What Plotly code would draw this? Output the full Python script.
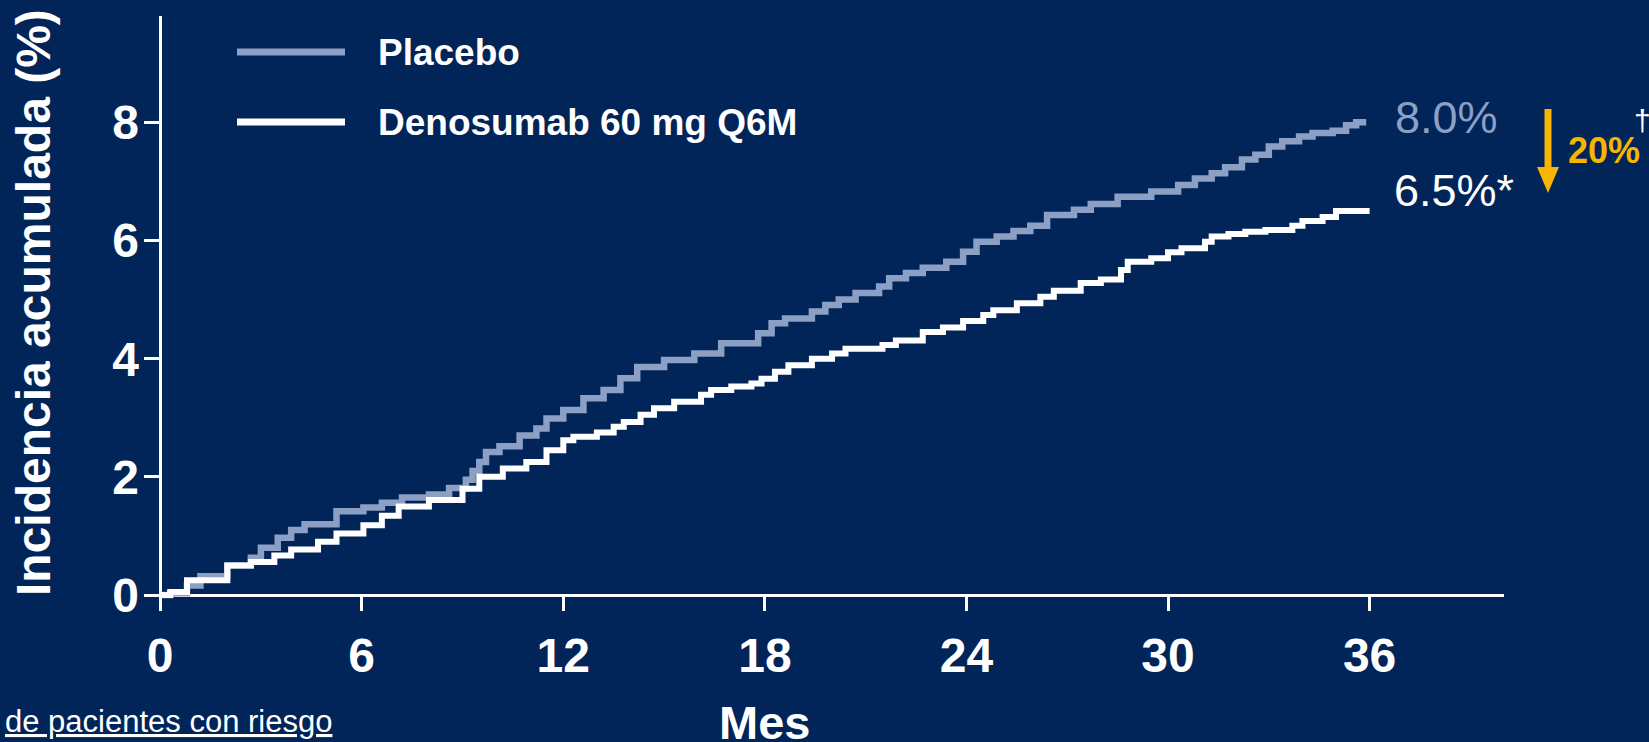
import plotly.graph_objects as go

# Cumulative incidence (%) by month, stepwise Kaplan-Meier style curves
placebo_months = [0, 0.3, 0.8, 1.2, 2.0, 2.7, 3.0, 3.5, 3.9, 4.3, 5.25, 6.05, 6.6, 7.2, 8.0, 8.6,
                  9.1, 9.3, 9.5, 9.7, 10.1, 10.7, 11.2, 11.5, 12.0, 12.6, 13.2, 13.7, 14.2, 15.0,
                  15.9, 16.7, 17.8, 18.2, 18.6, 19.4, 19.8, 20.2, 20.7, 21.4, 21.7, 22.2, 22.7,
                  23.4, 23.9, 24.3, 24.9, 25.4, 25.9, 26.4, 27.2, 27.7, 28.5, 29.5, 30.3, 30.8,
                  31.3, 31.7, 32.2, 32.6, 33.0, 33.4, 33.9, 34.3, 34.9, 35.3, 35.6, 35.9]
placebo_pct = [0, 0.03, 0.16, 0.32, 0.5, 0.63, 0.8, 0.97, 1.1, 1.2, 1.42, 1.48, 1.56, 1.65, 1.7, 1.81,
               1.95, 2.1, 2.25, 2.42, 2.52, 2.7, 2.82, 2.99, 3.13, 3.33, 3.47, 3.67, 3.86, 3.98,
               4.09, 4.26, 4.43, 4.6, 4.68, 4.8, 4.91, 5.0, 5.11, 5.22, 5.36, 5.45, 5.54,
               5.64, 5.81, 5.98, 6.07, 6.16, 6.25, 6.43, 6.52, 6.62, 6.74, 6.83, 6.94, 7.05,
               7.14, 7.24, 7.37, 7.45, 7.59, 7.68, 7.76, 7.82, 7.86, 7.95, 8.0, 8.0]

deno_months = [0, 0.3, 0.8, 2.0, 2.7, 3.4, 3.9, 4.7, 5.25, 6.05, 6.6, 7.1, 8.0, 9.0, 9.5, 10.2,
               10.9, 11.5, 12.0, 12.3, 13.0, 13.5, 13.8, 14.3, 14.7, 15.3, 16.1, 16.4, 17.0, 17.6,
               17.9, 18.3, 18.7, 19.4, 20.0, 20.4, 21.5, 21.9, 22.7, 23.3, 23.9, 24.5, 24.8,
               25.5, 26.2, 26.6, 27.4, 28.0, 28.6, 28.8, 29.5, 30.0, 30.4, 31.1, 31.3, 31.8,
               32.3, 32.9, 33.7, 34.0, 34.6, 35.0, 36.0]
deno_pct = [0, 0.05, 0.25, 0.5, 0.56, 0.67, 0.77, 0.9, 1.04, 1.18, 1.34, 1.5, 1.61, 1.8, 2.0, 2.14,
            2.25, 2.45, 2.62, 2.68, 2.75, 2.85, 2.93, 3.05, 3.16, 3.27, 3.39, 3.47, 3.53, 3.58,
            3.66, 3.78, 3.89, 4.0, 4.09, 4.17, 4.23, 4.31, 4.45, 4.53, 4.64, 4.74, 4.82,
            4.94, 5.05, 5.15, 5.28, 5.34, 5.5, 5.64, 5.7, 5.8, 5.87, 5.98, 6.07, 6.11,
            6.15, 6.18, 6.25, 6.33, 6.4, 6.5, 6.5]

series_names = ["Placebo", "Denosumab 60 mg Q6M"]
end_labels = ["8.0%", "6.5%*"]
x_ticks = [0, 6, 12, 18, 24, 30, 36]
y_ticks = [0, 2, 4, 6, 8]

BG = "#012459"
GREY = "#8c9fc4"
WHITE = "#ffffff"
ORANGE = "#f7b500"
FONT = "Liberation Sans, Arial, sans-serif"

W, H = 1649, 742
ML, MR, MT, MB = 144, 145, 16, 131
PW, PH = W - ML - MR, H - MT - MB


def px_x(px):
    return (px - ML) / PW


def px_y(py):
    return (H - MB - py) / PH


fig = go.Figure()
fig.add_trace(go.Scatter(x=placebo_months, y=placebo_pct, mode="lines", line_shape="hv",
                         line=dict(color=GREY, width=6.5), name=series_names[0],
                         showlegend=False))
fig.add_trace(go.Scatter(x=deno_months, y=deno_pct, mode="lines", line_shape="hv",
                         line=dict(color=WHITE, width=6), name=series_names[1],
                         showlegend=False))

annotations = []
shapes = []

# legend block: sample strokes and labels
legend_rows = [(series_names[0], GREY, 52), (series_names[1], WHITE, 122)]
for name, col, py in legend_rows:
    shapes.append(dict(type="line", xref="paper", yref="paper",
                       x0=px_x(237), x1=px_x(345), y0=px_y(py), y1=px_y(py),
                       line=dict(color=col, width=7)))
    annotations.append(dict(text=f"<b>{name}</b>", xref="paper", yref="paper",
                            x=px_x(376), y=px_y(py), xanchor="left", yanchor="middle",
                            showarrow=False, font=dict(family=FONT, size=37, color=WHITE)))

# end-of-curve values
annotations.append(dict(text=end_labels[0], xref="x", yref="y", x=placebo_months[-1] + 0.8,
                        y=placebo_pct[-1] + 0.08, xanchor="left", yanchor="middle",
                        showarrow=False, font=dict(family=FONT, size=45, color=GREY)))
annotations.append(dict(text=end_labels[1], xref="x", yref="y", x=deno_months[-1] + 0.67,
                        y=deno_pct[-1] + 0.34, xanchor="left", yanchor="middle",
                        showarrow=False, font=dict(family=FONT, size=45, color=WHITE)))

# relative reduction arrow
shapes.append(dict(type="line", xref="paper", yref="paper",
                   x0=px_x(1548), x1=px_x(1548), y0=px_y(109), y1=px_y(172),
                   line=dict(color=ORANGE, width=7)))
shapes.append(dict(type="path", xref="paper", yref="paper",
                   path=(f"M {px_x(1537)},{px_y(167)} L {px_x(1559)},{px_y(167)} "
                         f"L {px_x(1548)},{px_y(193)} Z"),
                   fillcolor=ORANGE, line=dict(width=0)))
annotations.append(dict(text="<b>20%</b>", xref="paper", yref="paper", x=px_x(1566),
                        y=px_y(150), xanchor="left", yanchor="middle", showarrow=False,
                        font=dict(family=FONT, size=36, color=ORANGE)))
annotations.append(dict(text="†", xref="paper", yref="paper", x=px_x(1632),
                        y=px_y(120), xanchor="left", yanchor="middle", showarrow=False,
                        font=dict(family=FONT, size=30, color=WHITE)))

# axis titles
annotations.append(dict(text="<b>Incidencia acumulada (%)</b>", xref="paper", yref="paper",
                        x=px_x(34), y=px_y(303), xanchor="center", yanchor="middle",
                        textangle=-90, showarrow=False,
                        font=dict(family=FONT, size=48, color=WHITE)))
annotations.append(dict(text="<b>Mes</b>", xref="x", yref="paper", x=18, y=px_y(722),
                        xanchor="center", yanchor="middle", showarrow=False,
                        font=dict(family=FONT, size=47, color=WHITE)))
annotations.append(dict(text="de pacientes con riesgo", xref="paper", yref="paper",
                        x=px_x(3), y=px_y(721), xanchor="left", yanchor="middle",
                        showarrow=False,
                        font=dict(family=FONT, size=31, color=WHITE, lineposition="under")))

fig.update_layout(
    width=W, height=H,
    margin=dict(l=ML, r=MR, t=MT, b=MB, pad=0),
    paper_bgcolor=BG, plot_bgcolor=BG,
    showlegend=False,
    annotations=annotations,
    shapes=shapes,
    xaxis=dict(range=[-0.48, 40], tickvals=x_ticks, ticktext=[str(v) for v in x_ticks],
               ticks="inside", ticklen=16, tickwidth=3, tickcolor=WHITE,
               showgrid=False, showline=False, zeroline=True, zerolinecolor=WHITE,
               zerolinewidth=3, ticklabelstandoff=12,
               tickfont=dict(family=FONT, size=48, color=WHITE, weight="bold")),
    yaxis=dict(range=[-0.27, 9.8], tickvals=y_ticks, ticktext=[str(v) for v in y_ticks],
               ticks="inside", ticklen=16, tickwidth=3, tickcolor=WHITE,
               showgrid=False, showline=False, zeroline=True, zerolinecolor=WHITE,
               zerolinewidth=3, ticklabelstandoff=4,
               tickfont=dict(family=FONT, size=48, color=WHITE, weight="bold")),
)

fig.write_html("out.html")
